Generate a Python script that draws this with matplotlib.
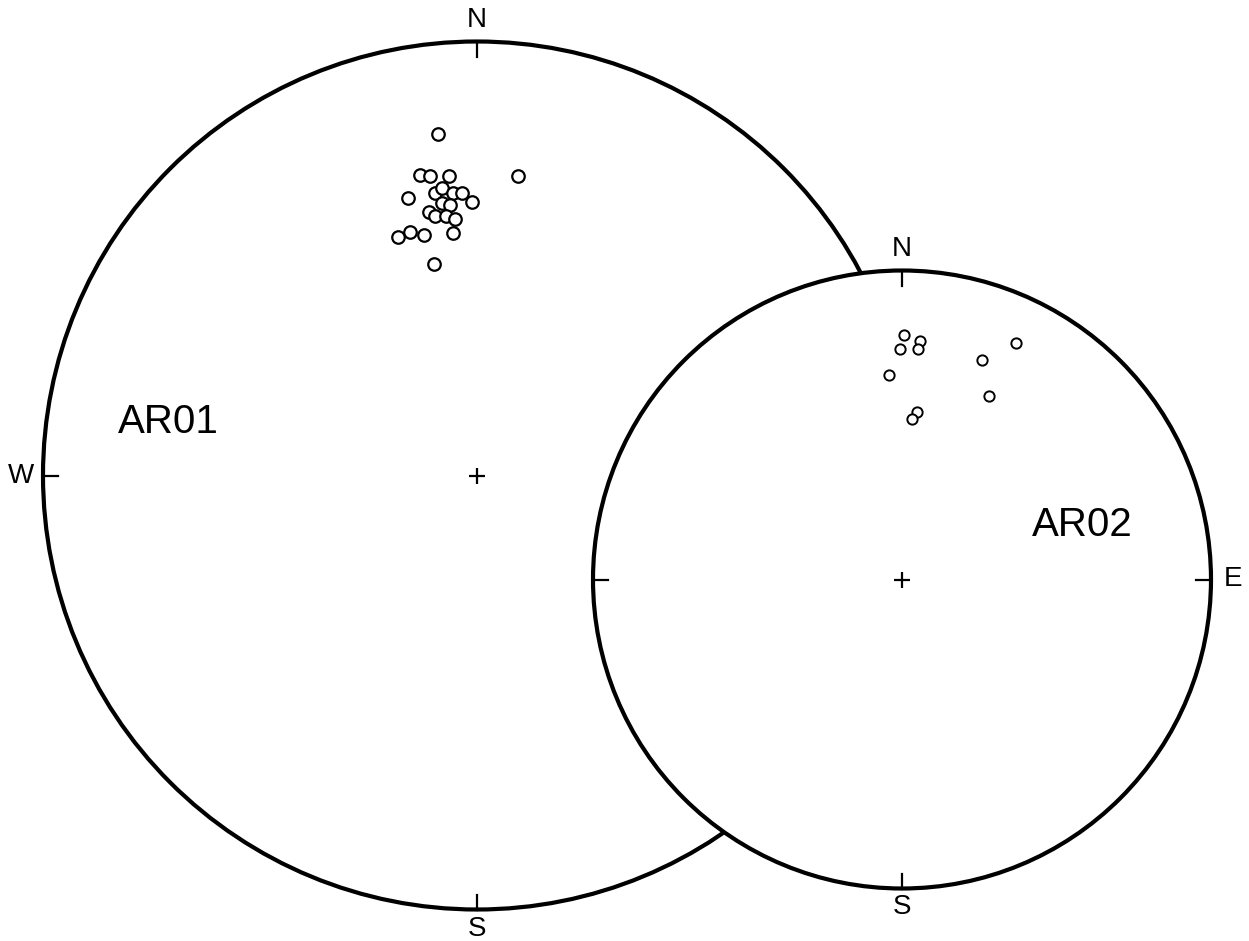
import matplotlib
matplotlib.use("Agg")
import matplotlib.pyplot as plt
from matplotlib.patches import Circle

# Projected directions (east, north) in units of the net radius
ar01_east = [-0.089, -0.131, -0.108, -0.064, 0.095, -0.158, -0.097, -0.080, -0.055,
             -0.035, -0.012, -0.080, -0.062, -0.110, -0.097, -0.072, -0.051, -0.181,
             -0.154, -0.121, -0.056, -0.099]
ar01_north = [0.788, 0.692, 0.690, 0.690, 0.690, 0.639, 0.652, 0.662, 0.650,
              0.652, 0.631, 0.627, 0.623, 0.608, 0.598, 0.599, 0.590, 0.550,
              0.562, 0.553, 0.558, 0.487]

ar02_east = [0.007, 0.058, 0.051, -0.006, -0.041, 0.260, 0.369, 0.282, 0.048, 0.033]
ar02_north = [0.791, 0.773, 0.745, 0.745, 0.662, 0.710, 0.764, 0.594, 0.543, 0.518]

site_names = ["AR01", "AR02"]
compass = ["N", "E", "S", "W"]

W, H = 1249, 941
fig = plt.figure(figsize=(W / 100, H / 100), dpi=100)
fig.patch.set_facecolor("white")

LETTER_FONT = ["Liberation Sans Narrow", "Liberation Sans", "DejaVu Sans"]
NAME_FONT = ["Liberation Sans", "DejaVu Sans"]


def make_net(cx, cy, R, z, labels, name, name_xy, east, north, ms, mew):
    ax = fig.add_axes([(cx - R) / W, (H - cy - R) / H, 2 * R / W, 2 * R / H])
    ax.set_zorder(z)
    ax.set_xlim(-1, 1)
    ax.set_ylim(-1, 1)
    ax.axis("off")
    ax.add_patch(Circle((0, 0), 1, facecolor="white", edgecolor="black",
                        lw=3.0, zorder=1, clip_on=False))
    tick = 15.0 / R
    dirs = {"N": (0, 1), "E": (1, 0), "S": (0, -1), "W": (-1, 0)}
    for key, (ux, uy) in dirs.items():
        ax.plot([ux, ux * (1 - tick)], [uy, uy * (1 - tick)], color="black",
                lw=1.6, zorder=2, clip_on=False)
    for key in labels:
        ux, uy = dirs[key]
        off = 1 + (19.0 if key == "S" else 22.0) / R
        ax.text(ux * off, uy * off, key, ha="center", va="center", fontsize=20,
                family=LETTER_FONT, clip_on=False, zorder=3)
    ax.plot([0], [0], marker="+", ms=11, mew=1.6, color="black", zorder=3)
    ax.text(name_xy[0], name_xy[1], name, ha="left", va="center", fontsize=29,
            family=NAME_FONT, zorder=3)
    ax.plot(east, north, linestyle="none", marker="o", ms=ms, mew=mew,
            mfc="white", mec="black", zorder=4)
    return ax


make_net(477, 475.5, 434, 1, ["N", "S", "W"], site_names[0],
         ((118 - 477) / 434, (475.5 - 422) / 434), ar01_east, ar01_north, 9.0, 1.6)
make_net(902, 579.5, 309, 2, ["N", "E", "S"], site_names[1],
         ((1032 - 902) / 309, (579.5 - 525) / 309), ar02_east, ar02_north, 7.4, 1.4)

fig.savefig("out.png", dpi=100, facecolor="white")
